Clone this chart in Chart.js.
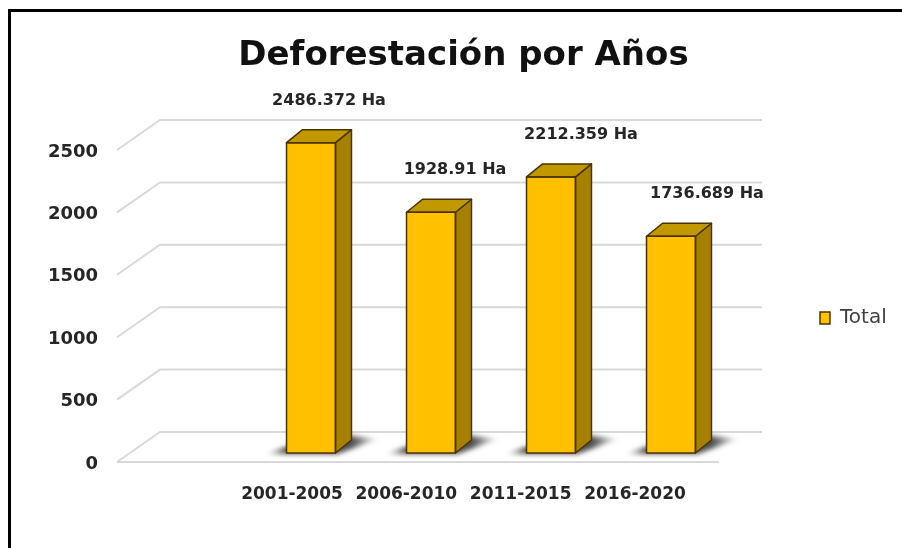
<!DOCTYPE html>
<html>
<head>
<meta charset="utf-8">
<script src="https://cdn.jsdelivr.net/npm/chart.js@4"></script>
<style>
  html, body { margin: 0; padding: 0; background: #fff; }
  #wrap { position: absolute; left: 0; top: 0; width: 902px; height: 548px; }
  #frame { position: absolute; left: 8px; top: 9px; right: 0; bottom: 0; border-top: 3px solid #000; border-left: 3px solid #000; pointer-events: none; }
</style>
</head>
<body>
<div id="wrap"><canvas id="c" width="902" height="548"></canvas></div>
<div id="frame"></div>
<script>
const categories = ['2001-2005', '2006-2010', '2011-2015', '2016-2020'];
const totalValues = [2486.372, 1928.91, 2212.359, 1736.689];
const yTicks = [0, 500, 1000, 1500, 2000, 2500];
const seriesName = 'Total';
const unitSuffix = ' Ha';

const FRONT = '#FFC000';
const SIDE = '#A68000';
const TOP = '#C29800';
const EDGE = '#4A3300';
const GRID = '#d9d9d9';

const threeD = {
  id: 'threeD',
  beforeDatasetsDraw(chart) {
    const ctx = chart.ctx;
    const ys = chart.scales.y;
    const ca = chart.chartArea;
    const backL = ca.left - 91, backR = ca.right + 31;
    const depthX = 43, depthY = 30, back = 21;
    const dx = 16, dy = -13;
    ctx.save();
    ctx.strokeStyle = GRID;
    ctx.lineWidth = 2;
    yTicks.forEach(v => {
      const yb = ys.getPixelForValue(v) - back;
      ctx.beginPath();
      ctx.moveTo(backL - depthX, yb + depthY);
      ctx.lineTo(backL, yb);
      ctx.lineTo(backR, yb);
      ctx.stroke();
    });
    const yf = ys.getPixelForValue(0) - back + depthY;
    ctx.beginPath();
    ctx.moveTo(backL - depthX, yf);
    ctx.lineTo(backR - depthX, yf);
    ctx.stroke();
    // floor shadows
    const meta = chart.getDatasetMeta(0);
    ctx.filter = 'blur(2.5px)';
    meta.data.forEach(bar => {
      const l = bar.x - bar.width / 2, r = bar.x + bar.width / 2, b = bar.base;
      const x0 = l - 22, x1 = r + dx + 28;
      const g = ctx.createLinearGradient(x0, 0, x1, 0);
      g.addColorStop(0, 'rgba(30,30,30,0)');
      g.addColorStop((l - x0) / (x1 - x0), 'rgba(30,30,30,0.8)');
      g.addColorStop((r + dx - x0) / (x1 - x0), 'rgba(30,30,30,0.8)');
      g.addColorStop(1, 'rgba(30,30,30,0)');
      ctx.fillStyle = g;
      ctx.beginPath();
      ctx.moveTo(l - 20, b + 1);
      ctx.lineTo(r + 2, b + 1);
      ctx.lineTo(r + dx + 26, b + dy - 1);
      ctx.lineTo(r + dx + 2, b + dy - 4);
      ctx.lineTo(l - 2, b - 6);
      ctx.closePath();
      ctx.fill();
    });
    ctx.restore();
  },
  afterDatasetsDraw(chart) {
    const ctx = chart.ctx;
    const meta = chart.getDatasetMeta(0);
    const dx = 16, dy = -13;
    ctx.save();
    ctx.lineJoin = 'round';
    ctx.strokeStyle = EDGE;
    ctx.lineWidth = 1.5;
    meta.data.forEach((bar, i) => {
      const l = bar.x - bar.width / 2, r = bar.x + bar.width / 2;
      const t = bar.y, b = bar.base;
      ctx.fillStyle = SIDE;
      ctx.beginPath();
      ctx.moveTo(r, t); ctx.lineTo(r + dx, t + dy); ctx.lineTo(r + dx, b + dy); ctx.lineTo(r, b);
      ctx.closePath(); ctx.fill(); ctx.stroke();
      ctx.fillStyle = TOP;
      ctx.beginPath();
      ctx.moveTo(l, t); ctx.lineTo(l + dx, t + dy); ctx.lineTo(r + dx, t + dy); ctx.lineTo(r, t);
      ctx.closePath(); ctx.fill(); ctx.stroke();
      ctx.strokeRect(l, t, r - l, b - t);
      ctx.fillStyle = '#262626';
      ctx.font = 'bold 16px "DejaVu Sans"';
      ctx.textAlign = 'center';
      ctx.textBaseline = 'middle';
      ctx.fillText(String(totalValues[i]) + unitSuffix, bar.x + 18 + 6 * i, t - 42);
    });
    ctx.restore();
  }
};

new Chart(document.getElementById('c'), {
  type: 'bar',
  data: {
    labels: categories,
    datasets: [{
      label: seriesName,
      data: totalValues,
      backgroundColor: FRONT,
      borderColor: EDGE,
      borderWidth: 0,
      xAxisID: 'x',
      yAxisID: 'y',
      categoryPercentage: 0.408,
      barPercentage: 1
    }]
  },
  options: {
    responsive: false,
    animation: false,
    layout: { padding: { left: 30.3, right: 5.3, top: 0, bottom: 0 } },
    plugins: {
      tooltip: { enabled: false },
      title: {
        display: true,
        text: 'Deforestación por Años',
        color: '#111',
        font: { family: 'DejaVu Sans', size: 34, weight: 'bold' },
        padding: { top: 35.6, bottom: 64.6 }
      },
      legend: {
        position: 'right',
        title: { display: true, text: '', padding: { top: 0, bottom: 73.6 }, font: { size: 12 } },
        labels: {
          color: '#404040',
          font: { family: 'DejaVu Sans', size: 20 },
          boxWidth: 10,
          boxHeight: 12,
          padding: 89,
          generateLabels(chart) {
            return [{ text: seriesName, fillStyle: FRONT, strokeStyle: EDGE, lineWidth: 1.5, datasetIndex: 0, fontColor: '#404040' }];
          }
        }
      }
    },
    scales: {
      x: { type: 'category', display: false, offset: true },
      x2: {
        type: 'linear',
        position: 'bottom',
        offset: false,
        bounds: 'data',
        min: -0.3586,
        max: 3.8397,
        grid: { display: false, drawTicks: false },
        border: { display: false },
        afterBuildTicks(scale) { scale.ticks = categories.map((_, i) => ({ value: i })); },
        afterFit(scale) { scale.height = 95; },
        ticks: {
          autoSkip: false,
          maxRotation: 0,
          padding: 31,
          color: '#262626',
          font: { family: 'DejaVu Sans', size: 17, weight: 'bold' },
          callback: (v) => categories[v]
        }
      },
      y: {
        position: 'left',
        min: 0,
        max: 2500,
        grid: { display: false, drawTicks: true, tickLength: 145 },
        border: { display: false },
        afterFit(scale) { scale.width = 220.7; },
        ticks: {
          stepSize: 500,
          padding: 8,
          labelOffset: 11,
          color: '#262626',
          font: { family: 'DejaVu Sans', size: 18, weight: 'bold' },
          callback: (v) => String(v)
        }
      }
    }
  },
  plugins: [threeD]
});
</script>
</body>
</html>
